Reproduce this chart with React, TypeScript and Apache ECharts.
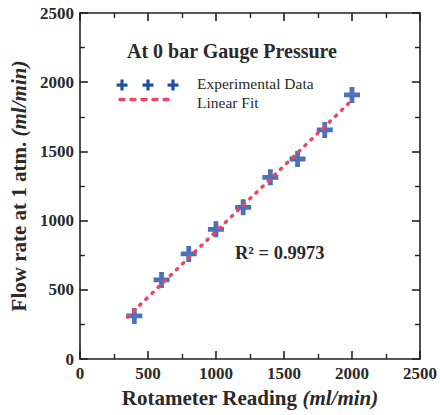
import React, { useEffect, useRef } from "react";
import * as echarts from "echarts";

const rotameterReadings = [400, 600, 800, 1000, 1200, 1400, 1600, 1800, 2000];
const flowRates = [311, 571, 759, 937, 1096, 1313, 1445, 1655, 1908];
const fitX = [350, 2000];
const fitY = [304, 1870];
const legendTitle = "At 0 bar Gauge Pressure";
const legendLabels = ["Experimental Data", "Linear Fit"];
const r2Text = "R² = 0.9973";

const BLUE = "#1f4ea6";
const RED = "#ee4562";
const FONT = "Liberation Serif";
const INK = "#2a2a2a";
const PLUS = "path://M5.6,0 H10.4 V5.6 H16 V10.4 H10.4 V16 H5.6 V10.4 H0 V5.6 H5.6 Z";

export default function App() {
  const ref = useRef<HTMLDivElement>(null);
  useEffect(() => {
    if (!ref.current) return;
    const chart = echarts.init(ref.current, undefined, { renderer: "svg" });
    const axisCommon = {
      type: "value" as const,
      min: 0,
      max: 2500,
      interval: 500,
      axisLine: { show: true, onZero: false, lineStyle: { color: "#222", width: 1.6 } },
      axisTick: { show: true, inside: true, length: 8, lineStyle: { color: "#222", width: 1.6 } },
      minorTick: { show: true, splitNumber: 2, length: 5, lineStyle: { color: "#222", width: 1.4 } },
      splitLine: { show: false },
    };
    const labelStyle = {
      fontFamily: FONT,
      fontWeight: "bold" as const,
      fontSize: 17,
      color: INK,
      formatter: (v: number) => String(v),
    };
    const nameStyle = {
      fontFamily: FONT,
      fontWeight: "bold" as const,
      fontSize: 21,
      color: INK,
      rich: {
        i: { fontFamily: FONT, fontWeight: "bold" as const, fontStyle: "italic" as const, fontSize: 21, color: INK },
      },
    };
    const legendCross = (cx: number) => ({
      type: "group",
      children: [
        { type: "rect", shape: { x: cx - 5.5, y: 83.5, width: 11, height: 3.2 }, style: { fill: BLUE } },
        { type: "rect", shape: { x: cx - 1.6, y: 79.5, width: 3.2, height: 11 }, style: { fill: BLUE } },
      ],
    });
    chart.setOption({
      animation: false,
      grid: { left: 73, right: 17, top: 13, bottom: 56 },
      xAxis: [
        {
          ...axisCommon,
          position: "bottom",
          name: "Rotameter Reading {i|(ml/min)}",
          nameLocation: "middle",
          nameGap: 28,
          nameTextStyle: nameStyle,
          axisLabel: { ...labelStyle, margin: 6 },
        },
        { ...axisCommon, position: "top", axisLabel: { show: false } },
      ],
      yAxis: [
        {
          ...axisCommon,
          position: "left",
          name: "Flow rate at 1 atm. {i|(ml/min)}",
          nameLocation: "middle",
          nameGap: 42,
          nameTextStyle: nameStyle,
          axisLabel: { ...labelStyle, margin: 6 },
        },
        { ...axisCommon, position: "right", axisLabel: { show: false } },
      ],
      graphic: [
        {
          type: "text",
          x: 232,
          y: 51,
          style: {
            text: legendTitle,
            fontFamily: FONT,
            fontWeight: "bold",
            fontSize: 20,
            fill: INK,
            align: "center",
            verticalAlign: "middle",
          },
        },
        legendCross(122),
        legendCross(148),
        legendCross(173),
        {
          type: "line",
          shape: { x1: 120, y1: 99.5, x2: 173, y2: 99.5 },
          style: { stroke: RED, lineWidth: 3.5, lineDash: [4, 7], lineCap: "round" },
        },
        {
          type: "text",
          x: 197,
          y: 83.5,
          style: {
            text: legendLabels[0],
            fontFamily: FONT,
            fontSize: 15.5,
            fill: INK,
            verticalAlign: "middle",
          },
        },
        {
          type: "text",
          x: 197,
          y: 102.5,
          style: {
            text: legendLabels[1],
            fontFamily: FONT,
            fontSize: 15.5,
            fill: INK,
            verticalAlign: "middle",
          },
        },
        {
          type: "text",
          x: 235,
          y: 253,
          style: {
            text: r2Text,
            fontFamily: FONT,
            fontWeight: "bold",
            fontSize: 18.5,
            fill: INK,
            verticalAlign: "middle",
          },
        },
      ],
      series: [
        {
          type: "scatter",
          xAxisIndex: 0,
          yAxisIndex: 0,
          symbol: PLUS,
          symbolSize: 16,
          itemStyle: { color: BLUE },
          data: rotameterReadings.map((x, i) => [x, flowRates[i]]),
          z: 2,
        },
        {
          type: "line",
          xAxisIndex: 0,
          yAxisIndex: 0,
          showSymbol: false,
          symbol: "none",
          lineStyle: { color: RED, width: 3.5, type: [1.5, 7], cap: "round" },
          data: fitX.map((x, i) => [x, fitY[i]]),
          z: 3,
        },
      ],
    });
    return () => chart.dispose();
  }, []);
  return (
    <div
      ref={ref}
      style={{ position: "fixed", left: 0, top: 0, width: 440, height: 415, background: "#fff" }}
    />
  );
}
